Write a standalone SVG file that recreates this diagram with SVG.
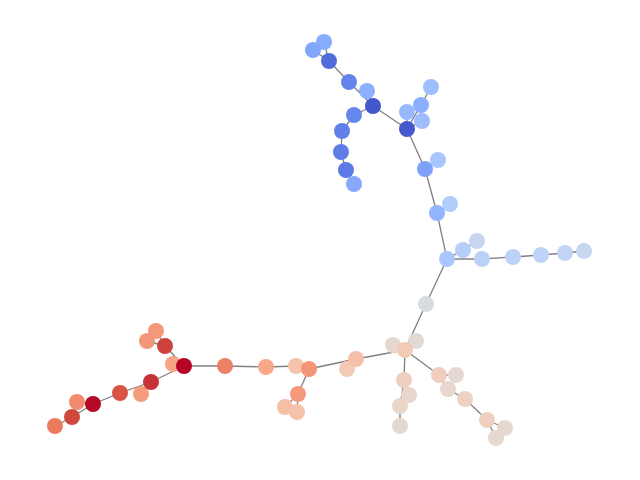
<svg xmlns="http://www.w3.org/2000/svg" width="640" height="480" viewBox="0 0 640 480">
<style>
.e line{stroke:#808080;stroke-width:1.3}
circle{r:8}
</style>
<rect width="640" height="480" fill="#fff"/>
<g id="edges" class="e">
<line x1="324" y1="42" x2="329" y2="61"/><line x1="313" y1="50" x2="329" y2="61"/>
<line x1="329" y1="61" x2="349" y2="82"/><line x1="349" y1="82" x2="373" y2="106"/><line x1="367" y1="91" x2="373" y2="106"/>
<line x1="373" y1="106" x2="354" y2="115"/><line x1="354" y1="115" x2="342" y2="131"/><line x1="342" y1="131" x2="341" y2="152"/><line x1="341" y1="152" x2="346" y2="170"/><line x1="346" y1="170" x2="354" y2="184"/>
<line x1="373" y1="106" x2="407" y2="129"/><line x1="407" y1="129" x2="407" y2="112"/><line x1="407" y1="129" x2="421" y2="105"/><line x1="421" y1="105" x2="431" y2="87"/><line x1="407" y1="129" x2="422" y2="121"/>
<line x1="407" y1="129" x2="425" y2="169"/><line x1="425" y1="169" x2="438" y2="160"/><line x1="425" y1="169" x2="437" y2="213"/><line x1="437" y1="213" x2="450" y2="204"/><line x1="437" y1="213" x2="447" y2="259"/>
<line x1="447" y1="259" x2="463" y2="250"/><line x1="463" y1="250" x2="477" y2="241"/><line x1="447" y1="259" x2="482" y2="259"/><line x1="482" y1="259" x2="513" y2="257"/><line x1="513" y1="257" x2="541" y2="255"/><line x1="541" y1="255" x2="565" y2="253"/><line x1="565" y1="253" x2="584" y2="251"/>
<line x1="447" y1="259" x2="426" y2="304"/><line x1="426" y1="304" x2="405" y2="350"/>
<line x1="405" y1="350" x2="393" y2="345"/><line x1="405" y1="350" x2="416" y2="341"/>
<line x1="405" y1="350" x2="404" y2="380"/><line x1="404" y1="380" x2="409" y2="395"/><line x1="404" y1="380" x2="400" y2="406"/><line x1="400" y1="406" x2="400" y2="426"/>
<line x1="405" y1="350" x2="439" y2="375"/><line x1="439" y1="375" x2="456" y2="375"/><line x1="439" y1="375" x2="448" y2="389"/><line x1="448" y1="389" x2="465" y2="399"/><line x1="465" y1="399" x2="487" y2="420"/><line x1="487" y1="420" x2="505" y2="428"/><line x1="487" y1="420" x2="496" y2="438"/>
<line x1="405" y1="350" x2="356" y2="359"/><line x1="356" y1="359" x2="347" y2="369"/><line x1="356" y1="359" x2="309" y2="369"/>
<line x1="309" y1="369" x2="296" y2="366"/><line x1="309" y1="369" x2="298" y2="394"/><line x1="298" y1="394" x2="285" y2="407"/><line x1="298" y1="394" x2="297" y2="412"/>
<line x1="296" y1="366" x2="266" y2="367"/><line x1="266" y1="367" x2="225" y2="366"/><line x1="225" y1="366" x2="184" y2="366"/>
<line x1="184" y1="366" x2="173" y2="364"/><line x1="184" y1="366" x2="165" y2="346"/><line x1="165" y1="346" x2="156" y2="331"/><line x1="165" y1="346" x2="147" y2="341"/>
<line x1="184" y1="366" x2="151" y2="382"/><line x1="151" y1="382" x2="141" y2="394"/><line x1="151" y1="382" x2="120" y2="393"/><line x1="120" y1="393" x2="93" y2="404"/><line x1="93" y1="404" x2="77" y2="402"/><line x1="93" y1="404" x2="72" y2="417"/><line x1="72" y1="417" x2="55" y2="426"/>
</g>
<g id="A1"><circle cx="324" cy="42" r="8" fill="#88abfd"/></g>
<g id="A2"><circle cx="313" cy="50" r="8" fill="#82a6fb"/></g>
<g id="A3"><circle cx="329" cy="61" r="8" fill="#516ddb"/></g>
<g id="A4"><circle cx="349" cy="82" r="8" fill="#6384eb"/></g>
<g id="A5"><circle cx="367" cy="91" r="8" fill="#8caffe"/></g>
<g id="A6"><circle cx="373" cy="106" r="8" fill="#4358cb"/></g>
<g id="A7"><circle cx="354" cy="115" r="8" fill="#6687ed"/></g>
<g id="A8"><circle cx="342" cy="131" r="8" fill="#6180e9"/></g>
<g id="A9"><circle cx="341" cy="152" r="8" fill="#5e7de7"/></g>
<g id="A10"><circle cx="346" cy="170" r="8" fill="#5b7ae5"/></g>
<g id="A11"><circle cx="354" cy="184" r="8" fill="#86a9fc"/></g>
<g id="B1"><circle cx="407" cy="129" r="8" fill="#445acc"/></g>
<g id="B2"><circle cx="407" cy="112" r="8" fill="#98b9ff"/></g>
<g id="B3"><circle cx="421" cy="105" r="8" fill="#8badfd"/></g>
<g id="B4"><circle cx="431" cy="87" r="8" fill="#9ebeff"/></g>
<g id="B5"><circle cx="422" cy="121" r="8" fill="#9dbdff"/></g>
<g id="B6"><circle cx="425" cy="169" r="8" fill="#7da0f9"/></g>
<g id="B7"><circle cx="438" cy="160" r="8" fill="#a7c5fe"/></g>
<g id="B8"><circle cx="437" cy="213" r="8" fill="#93b5fe"/></g>
<g id="B9"><circle cx="450" cy="204" r="8" fill="#b2ccfb"/></g>
<g id="C1"><circle cx="447" cy="259" r="8" fill="#aac7fd"/></g>
<g id="C2"><circle cx="463" cy="250" r="8" fill="#b6cefa"/></g>
<g id="C3"><circle cx="477" cy="241" r="8" fill="#c6d6f1"/></g>
<g id="C4"><circle cx="482" cy="259" r="8" fill="#bbd1f8"/></g>
<g id="C5"><circle cx="513" cy="257" r="8" fill="#bcd2f7"/></g>
<g id="C6"><circle cx="541" cy="255" r="8" fill="#bfd3f6"/></g>
<g id="C7"><circle cx="565" cy="253" r="8" fill="#c1d4f4"/></g>
<g id="C8"><circle cx="584" cy="251" r="8" fill="#c7d7f0"/></g>
<g id="D"><circle cx="426" cy="304" r="8" fill="#d8dce2"/></g>
<g id="E2"><circle cx="393" cy="345" r="8" fill="#e6d7cf"/></g>
<g id="E3"><circle cx="416" cy="341" r="8" fill="#e3d9d3"/></g>
<g id="E1"><circle cx="405" cy="350" r="8" fill="#f2cbb7"/></g>
<g id="E4"><circle cx="404" cy="380" r="8" fill="#efcfbf"/></g>
<g id="E5"><circle cx="409" cy="395" r="8" fill="#e8d6cc"/></g>
<g id="E6"><circle cx="400" cy="406" r="8" fill="#ead5c9"/></g>
<g id="E7"><circle cx="400" cy="426" r="8" fill="#e4d9d2"/></g>
<g id="F2"><circle cx="456" cy="375" r="8" fill="#e5d8d1"/></g>
<g id="F1"><circle cx="439" cy="375" r="8" fill="#efcebd"/></g>
<g id="F3"><circle cx="448" cy="389" r="8" fill="#e7d7ce"/></g>
<g id="F4"><circle cx="465" cy="399" r="8" fill="#edd1c2"/></g>
<g id="F5"><circle cx="487" cy="420" r="8" fill="#eed0c0"/></g>
<g id="F6"><circle cx="505" cy="428" r="8" fill="#e5d8d1"/></g>
<g id="F7"><circle cx="496" cy="438" r="8" fill="#e6d7cf"/></g>
<g id="G2"><circle cx="347" cy="369" r="8" fill="#f2cab5"/></g>
<g id="G1"><circle cx="356" cy="359" r="8" fill="#f5c0a7"/></g>
<g id="G4"><circle cx="296" cy="366" r="8" fill="#f5c2aa"/></g>
<g id="G3"><circle cx="309" cy="369" r="8" fill="#f39577"/></g>
<g id="G6"><circle cx="285" cy="407" r="8" fill="#f6bea4"/></g>
<g id="G7"><circle cx="297" cy="412" r="8" fill="#f5c1a9"/></g>
<g id="G5"><circle cx="298" cy="394" r="8" fill="#f49a7b"/></g>
<g id="H7"><circle cx="266" cy="367" r="8" fill="#f7a889"/></g>
<g id="H6"><circle cx="225" cy="366" r="8" fill="#ec8165"/></g>
<g id="H4"><circle cx="156" cy="331" r="8" fill="#f4987a"/></g>
<g id="H5"><circle cx="147" cy="341" r="8" fill="#f39778"/></g>
<g id="H3"><circle cx="165" cy="346" r="8" fill="#cd423b"/></g>
<g id="H2"><circle cx="173" cy="364" r="8" fill="#f6a586"/></g>
<g id="H1"><circle cx="184" cy="366" r="8" fill="#b40426"/></g>
<g id="I2"><circle cx="141" cy="394" r="8" fill="#f59c7d"/></g>
<g id="I1"><circle cx="151" cy="382" r="8" fill="#c53334"/></g>
<g id="I3"><circle cx="120" cy="393" r="8" fill="#d75445"/></g>
<g id="I5"><circle cx="77" cy="402" r="8" fill="#f08b6e"/></g>
<g id="I4"><circle cx="93" cy="404" r="8" fill="#b50927"/></g>
<g id="I7"><circle cx="55" cy="426" r="8" fill="#ea7b60"/></g>
<g id="I6"><circle cx="72" cy="417" r="8" fill="#d0473d"/></g>
</svg>
